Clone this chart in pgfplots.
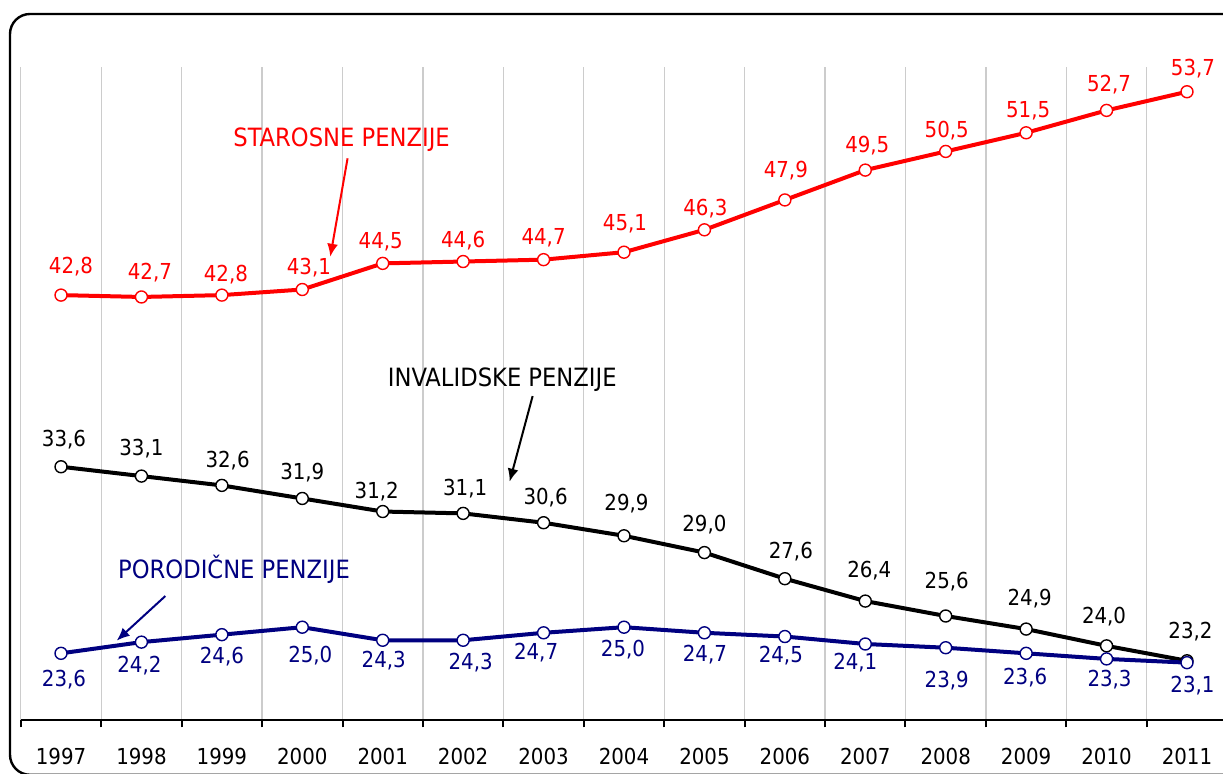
\documentclass[border=0pt]{standalone}
\usepackage{fontspec}
\setmainfont{DejaVu Sans Condensed}
\usepackage{pgfplots}
\pgfplotsset{compat=1.18}
\usetikzlibrary{arrows.meta}
\definecolor{navyc}{RGB}{0,0,128}
\definecolor{redc}{RGB}{255,0,0}
\newcommand{\lblfont}{\fontsize{11pt}{13pt}\selectfont}
\newcommand{\annfont}{\fontsize{12.6pt}{15pt}\selectfont}

\pgfplotstableread{
x y lab dx dy
0 42.8 42,8 10 -29.5
1 42.7 42,7 8.5 -25.7
2 42.8 42,8 4 -21.9
3 43.1 43,1 6.6 -23.5
4 44.5 44,5 -2 -22.5
5 44.6 44,6 0 -22
6 44.7 44,7 0 -23
7 45.1 45,1 1 -30
8 46.3 46,3 1 -22.8
9 47.9 47,9 1 -30
10 49.5 49,5 2 -26
11 50.5 50,5 1 -22.4
12 51.5 51,5 2 -23.7
13 52.7 52,7 2.5 -27.4
14 53.7 53,7 6 -24.2
}\starosne

\pgfplotstableread{
x y lab dx dy
0 33.6 33,6 3 -28
1 33.1 33,1 0 -28.4
2 32.6 32,6 5.7 -25.7
3 31.9 31,9 0 -27
4 31.2 31,2 -6 -21.2
5 31.1 31,1 2 -25.8
6 30.6 30,6 2 -26
7 29.9 29,9 2.5 -33.3
8 29.0 29,0 0 -28.7
9 27.6 27,6 6 -28
10 26.4 26,4 4 -31.7
11 25.6 25,6 1 -35.6
12 24.9 24,9 3.5 -31.7
13 24.0 24,0 -2.5 -30.5
14 23.2 23,2 3.5 -30.2
}\invalidske

\pgfplotstableread{
x y lab dx dy
0 23.6 23,6 3 25
1 24.2 24,2 -2 22
2 24.6 24,6 0 21
3 25.0 25,0 8 27.7
4 24.3 24,3 1 19
5 24.3 24,3 7.5 21
6 24.7 24,7 -7.5 18.5
7 25.0 25,0 -1 21
8 24.7 24,7 0.5 21.2
9 24.5 24,5 -4 18
10 24.1 24,1 -10 18
11 23.9 23,9 1 32
12 23.6 23,6 -1 23
13 23.3 23,3 3 19.4
14 23.1 23,1 5.5 21.7
}\porodicne

\pgfplotsset{
  lbl/.style={
    nodes near coords={\pgfplotspointmeta},
    point meta=explicit symbolic,
    visualization depends on={\thisrow{dx} \as \dx},
    visualization depends on={\thisrow{dy} \as \dy},
    every node near coord/.append style={font=\lblfont, text=#1, inner sep=0pt,
      anchor=base, xshift={\dx*0.5pt}, yshift={-(\dy)*0.5pt-4pt}},
  },
  ser/.style={color=#1, line width=2pt, mark=*, mark size=3pt,
    mark options={fill=white, draw=#1, line width=0.7pt, solid}},
}

\begin{document}
\begin{tikzpicture}
\begin{axis}[
  scale only axis, width=603.2pt, height=326.5pt,
  at={(10.4pt,26.75pt)}, anchor=south west,
  xmin=-0.5, xmax=14.5, ymin=20, ymax=55,
  axis x line*=bottom, axis y line=none,
  x axis line style={line width=1pt, -},
  xtick={0,1,2,3,4,5,6,7,8,9,10,11,12,13,14},
  xticklabels={1997,1998,1999,2000,2001,2002,2003,2004,2005,2006,2007,2008,2009,2010,2011},
  major tick length=0pt,
  minor xtick={-0.5,0.5,...,14.5},
  minor tick length=3.5pt,
  xtick align=outside,
  xminorgrids=true,
  minor grid style={draw=black!20, line width=0.6pt},
  minor x tick style={black, line width=1pt},
  tick label style={font=\lblfont},
  xticklabel style={anchor=base, inner sep=0pt, yshift=-22.25pt},
  clip=false,
]
\addplot[ser=redc, lbl=redc] table[x=x, y=y, meta=lab] {\starosne};
\addplot[ser=black, lbl=black] table[x=x, y=y, meta=lab] {\invalidske};
\addplot[ser=navyc, lbl=navyc] table[x=x, y=y, meta=lab] {\porodicne};

\node[anchor=base, text=redc, font=\annfont, inner sep=0pt] at (axis cs:3.489,50.75) {STAROSNE PENZIJE};
\draw[redc, line width=1pt, -{Latex[length=6.5pt,width=5.5pt]}] (axis cs:3.563,50.13) -- (axis cs:3.348,44.855);
\node[anchor=base, text=black, font=\annfont, inner sep=0pt] at (axis cs:5.487,37.89) {INVALIDSKE PENZIJE};
\draw[black, line width=1pt, -{Latex[length=6.5pt,width=5.5pt]}] (axis cs:5.864,37.39) -- (axis cs:5.578,32.80);
\node[anchor=base, text=navyc, font=\annfont, inner sep=0pt] at (axis cs:2.152,27.62) {PORODIČNE PENZIJE};
\draw[navyc, line width=1pt, -{Latex[length=6.5pt,width=5.5pt]}] (axis cs:1.297,26.67) -- (axis cs:0.6925,24.28);
\end{axis}
\draw[line width=1.2pt, rounded corners=10pt] (5pt,-0.4pt) rectangle (625pt,380pt);
\pgfresetboundingbox
\useasboundingbox (0,0) rectangle (611.5pt,387pt);
\end{tikzpicture}
\end{document}
